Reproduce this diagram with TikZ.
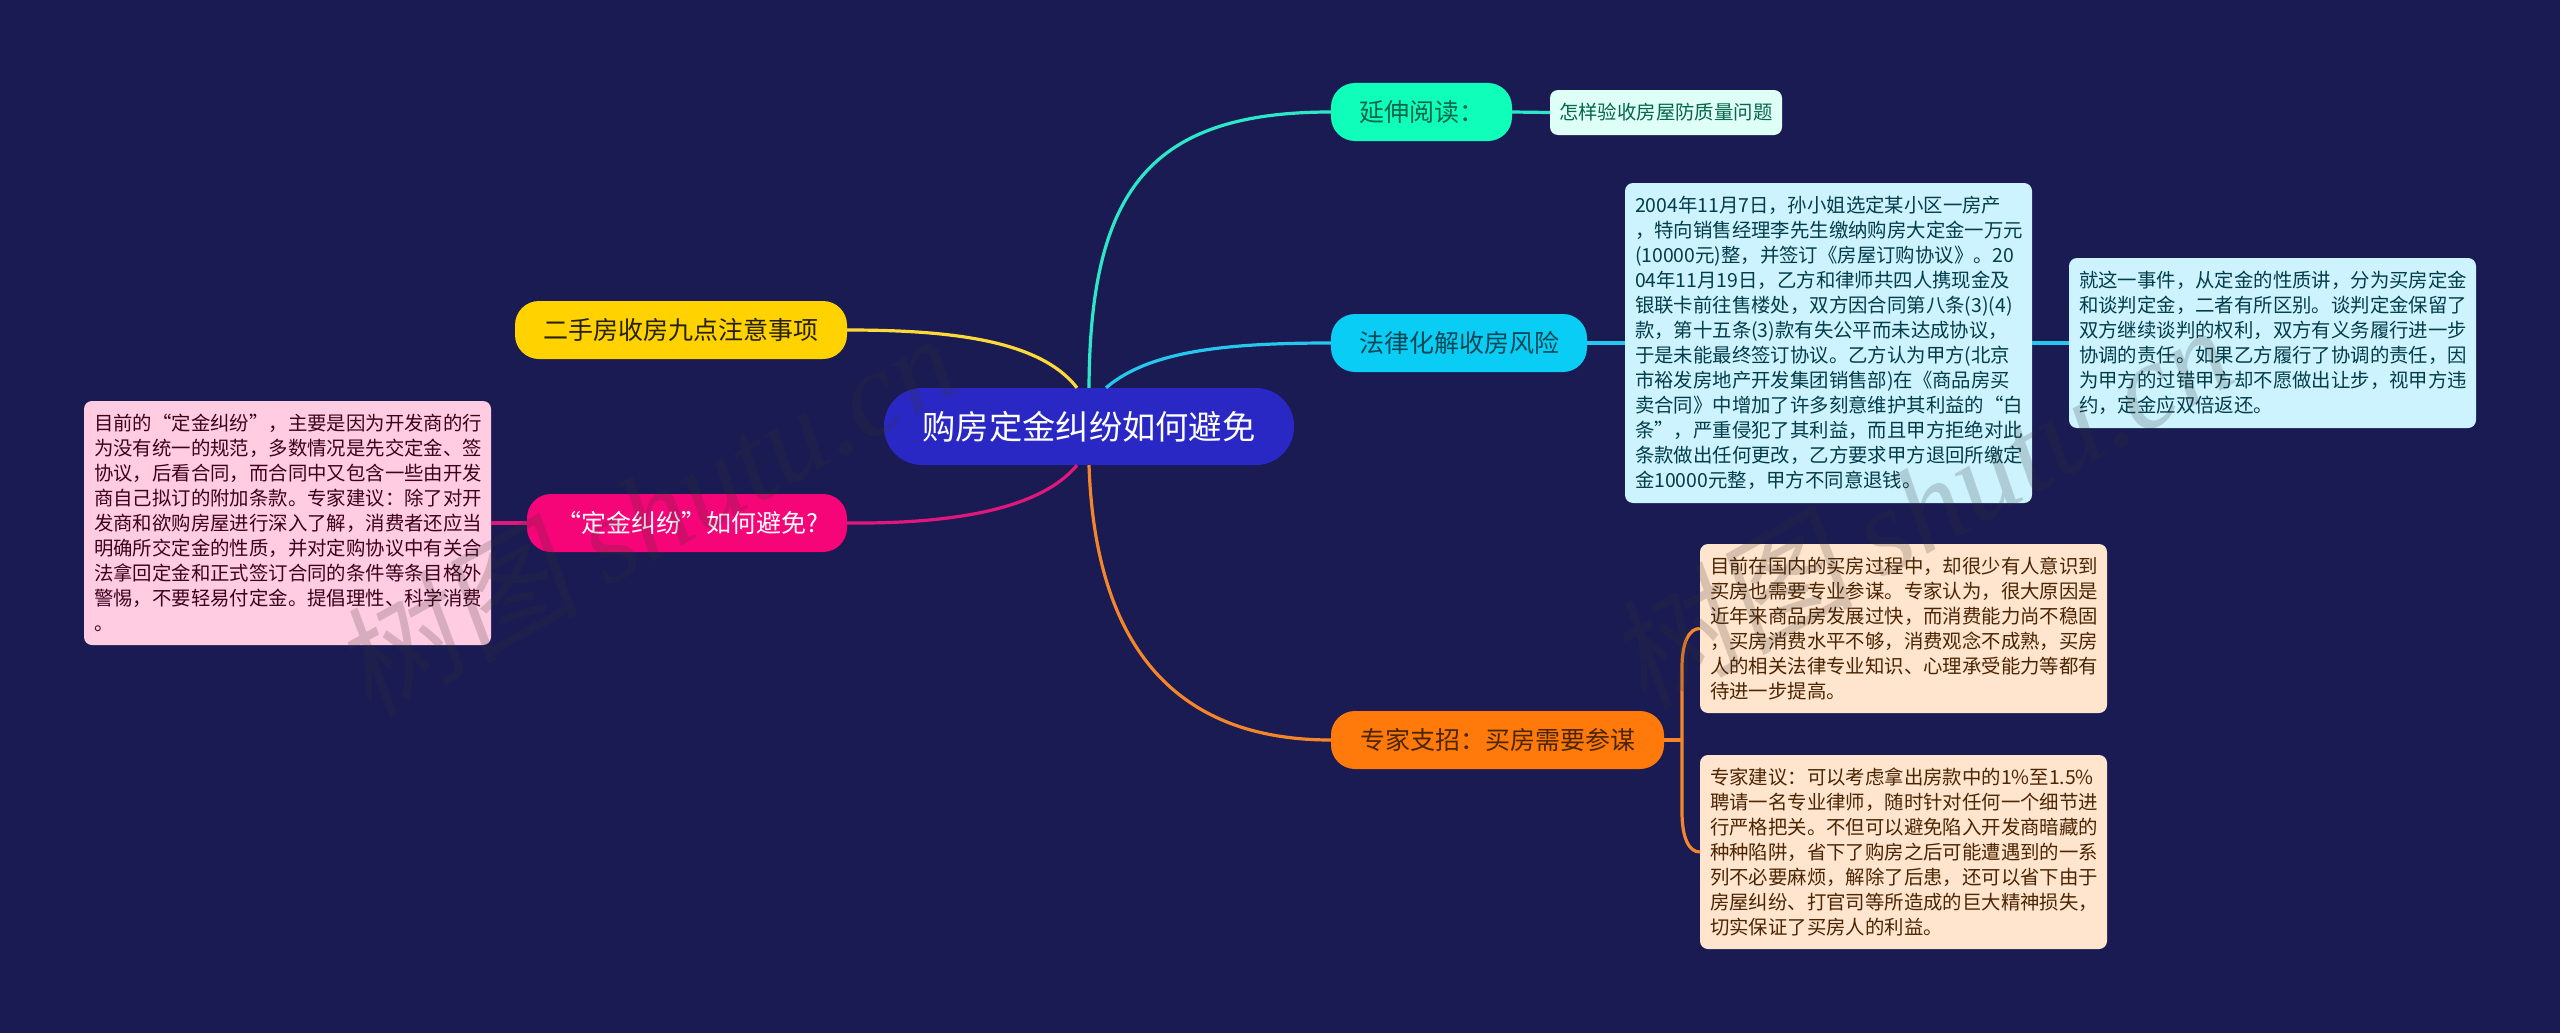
\documentclass[tikz,border=0pt]{standalone}
\usepackage{fontspec}
\setmainfont{Noto Sans CJK SC}
\newfontfamily\wmlatin{Liberation Serif}
\newfontfamily\wmcjk[FakeSlant=0.15]{Noto Sans CJK SC}
\definecolor{bgc}{RGB}{25,27,82}
\definecolor{centerc}{RGB}{42,40,196}
\definecolor{yellowc}{RGB}{255,210,0}
\definecolor{magentac}{RGB}{245,5,120}
\definecolor{tealc}{RGB}{15,255,186}
\definecolor{bluec}{RGB}{10,205,245}
\definecolor{orangec}{RGB}{255,122,10}
\definecolor{pinknote}{RGB}{255,204,226}
\definecolor{mintnote}{RGB}{222,255,246}
\definecolor{icenote}{RGB}{204,243,255}
\definecolor{creamnote}{RGB}{255,229,206}
\definecolor{tealline}{RGB}{45,232,200}
\definecolor{yellowline}{RGB}{255,216,58}
\definecolor{magentaline}{RGB}{224,24,126}
\definecolor{blueline}{RGB}{37,199,238}
\definecolor{orangeline}{RGB}{245,133,42}
\definecolor{wmc}{RGB}{55,50,50}
\tikzset{
  pill/.style={rectangle,rounded corners=24pt,inner sep=0pt,minimum height=58pt,font=\fontsize{25}{30}\selectfont},
  note/.style={rectangle,rounded corners=8pt,inner sep=0pt,text width=387pt,align=left,font=\fontsize{19.4}{25}\selectfont},
  link/.style={line width=3.2pt},
  wmark/.style={text=wmc,opacity=0.2,rotate=29,inner sep=0pt}
}
\begin{document}
\begin{tikzpicture}[x=1pt,y=-1pt]
\useasboundingbox (0,0) rectangle (2560,1033);
\fill[bgc] (0,0) rectangle (2560,1033);

\node[rectangle,rounded corners=38pt,fill=centerc,text=white,minimum width=410pt,minimum height=77pt,inner sep=0pt,font=\fontsize{33.3}{40}\selectfont] (root) at (1089,426.5) {购房定金纠纷如何避免};

\node[pill,fill=yellowc,text=black!85!yellowc,minimum width=332pt] (yellow) at (681,330) {二手房收房九点注意事项};
\node[pill,fill=magentac,text=white,minimum width=320pt] (magenta) at (687,523) {“定金纠纷”如何避免?};
\node[pill,fill=tealc,text=black!60!tealc,minimum width=181pt] (teal) at (1421.5,112) {延伸阅读：};
\node[pill,fill=bluec,text=black!65!bluec,minimum width=256pt] (blue) at (1459,343) {法律化解收房风险};
\node[pill,fill=orangec,text=black!70!orangec,minimum width=333pt] (orange) at (1497.5,740) {专家支招：买房需要参谋};

\node[note,fill=pinknote,text=black!75!magentac,minimum width=407pt,minimum height=244pt,text width=387pt] (pnote) at (287.5,523) {目前的“定金纠纷”，主要是因为开发商的行\\为没有统一的规范，多数情况是先交定金、签\\协议，后看合同，而合同中又包含一些由开发\\商自己拟订的附加条款。专家建议：除了对开\\发商和欲购房屋进行深入了解，消费者还应当\\明确所交定金的性质，并对定购协议中有关合\\法拿回定金和正式签订合同的条件等条目格外\\警惕，不要轻易付定金。提倡理性、科学消费\\。};

\node[note,fill=mintnote,text=black!60!tealc,minimum width=232pt,minimum height=45pt,text width=214pt] (mnote) at (1666,112.5) {怎样验收房屋防质量问题};

\node[note,fill=icenote,text=black!70!bluec,minimum width=407pt,minimum height=320pt] (inote) at (1828.5,343) {2004年11月7日，孙小姐选定某小区一房产\\，特向销售经理李先生缴纳购房大定金一万元\\(10000元)整，并签订《房屋订购协议》。20\\04年11月19日，乙方和律师共四人携现金及\\银联卡前往售楼处，双方因合同第八条(3)(4)\\款，第十五条(3)款有失公平而未达成协议，\\于是未能最终签订协议。乙方认为甲方(北京\\市裕发房地产开发集团销售部)在《商品房买\\卖合同》中增加了许多刻意维护其利益的“白\\条”，严重侵犯了其利益，而且甲方拒绝对此\\条款做出任何更改，乙方要求甲方退回所缴定\\金10000元整，甲方不同意退钱。};

\node[note,fill=icenote,text=black!70!bluec,minimum width=407pt,minimum height=170pt] (rnote) at (2272.5,343) {就这一事件，从定金的性质讲，分为买房定金\\和谈判定金，二者有所区别。谈判定金保留了\\双方继续谈判的权利，双方有义务履行进一步\\协调的责任。如果乙方履行了协调的责任，因\\为甲方的过错甲方却不愿做出让步，视甲方违\\约，定金应双倍返还。};

\node[note,fill=creamnote,text=black!70!orangec,minimum width=407pt,minimum height=169pt] (anote) at (1903.5,628.5) {目前在国内的买房过程中，却很少有人意识到\\买房也需要专业参谋。专家认为，很大原因是\\近年来商品房发展过快，而消费能力尚不稳固\\，买房消费水平不够，消费观念不成熟，买房\\人的相关法律专业知识、心理承受能力等都有\\待进一步提高。};

\node[note,fill=creamnote,text=black!70!orangec,minimum width=407pt,minimum height=194pt] (bnote) at (1903.5,852) {专家建议：可以考虑拿出房款中的1\%至1.5\%\\聘请一名专业律师，随时针对任何一个细节进\\行严格把关。不但可以避免陷入开发商暗藏的\\种种陷阱，省下了购房之后可能遭遇到的一系\\列不必要麻烦，解除了后患，还可以省下由于\\房屋纠纷、打官司等所造成的巨大精神损失，\\切实保证了买房人的利益。};

% main branches
\draw[link,tealline] (root.north) .. controls (1090,190) and (1150,112) .. (teal.west);
\draw[link,blueline] ([xshift=17pt]root.north) .. controls (1150,350) and (1230,343) .. (blue.west);
\draw[link,yellowline] ([xshift=-12pt]root.north) .. controls (1040,340) and (950,330) .. (yellow.east);
\draw[link,magentaline] ([xshift=-12pt]root.south) .. controls (1040,510) and (950,524) .. (magenta.east);
\draw[link,orangeline] (root.south) .. controls (1095,640) and (1170,740) .. (orange.west);

% second-level links
\draw[link,magentaline] (magenta.west) -- (pnote.east);
\draw[link,tealline] (teal.east) -- (mnote.west);
\draw[link,blueline] (blue.east) -- (inote.west);
\draw[link,blueline] (inote.east) -- (rnote.west);
\coordinate (fork) at (1682,740);
\draw[link,orangeline] (orange.east) -- (fork);
\draw[link,orangeline] (fork) -- (1682,668) .. controls (1682,642) and (1689,628.5) .. (anote.west);
\draw[link,orangeline] (fork) -- (1682,812) .. controls (1682,838) and (1689,852) .. (bnote.west);

% watermarks
\node[wmark] (wm1) at (645,513) {\fontsize{122}{130}\selectfont{\wmcjk 树图} {\wmlatin\itshape shutu.cn}};
\node[wmark] (wm2) at (1920,505) {\fontsize{122}{130}\selectfont{\wmcjk 树图} {\wmlatin\itshape shutu.cn}};
\end{tikzpicture}
\end{document}
